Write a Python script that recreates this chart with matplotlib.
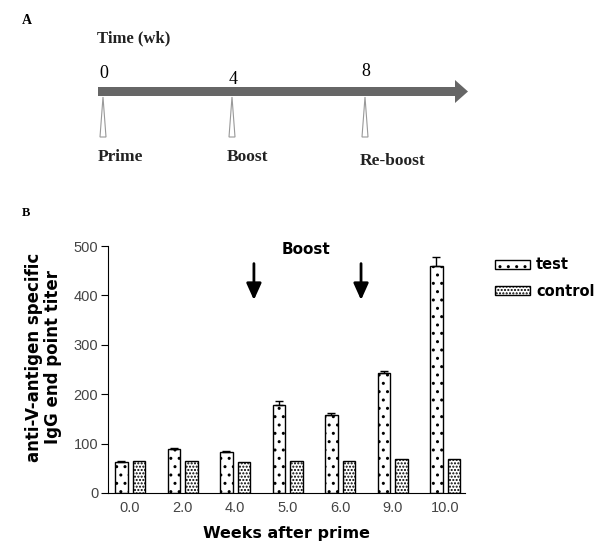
import matplotlib
matplotlib.use('Agg')
import matplotlib.pyplot as plt
from matplotlib.patches import FancyArrow, Polygon
import numpy as np

# data
weeks = ['0.0', '2.0', '4.0', '5.0', '6.0', '9.0', '10.0']
test = [63, 90, 82, 178, 157, 243, 460]
test_err = [2, 1, 3, 8, 4, 4, 17]
control = [65, 65, 63, 65, 65, 68, 68]

timeline_wk = ['0', '4', '8']
timeline_lbl = ['Prime', 'Boost', 'Re-boost']

W, H = 601, 556
fig = plt.figure(figsize=(W / 100, H / 100), dpi=100)

# ---- panel A, drawn in pixel coords on an overlay axes
ov = fig.add_axes([0, 0, 1, 1])
ov.set_xlim(0, W)
ov.set_ylim(H, 0)
ov.axis('off')

serif = 'Liberation Serif'
ov.text(22, 21, 'A', fontfamily=serif, fontweight='bold', fontsize=10, va='center')
ov.text(22, 213, 'B', fontfamily=serif, fontweight='bold', fontsize=9, va='center')
ov.text(97, 38, 'Time (wk)', fontfamily=serif, fontweight='bold', fontsize=12,
        va='center', color='#222')

ov.add_patch(FancyArrow(98, 91.5, 357, 0, width=9, head_width=23, head_length=13,
                        length_includes_head=False, color='#666666', lw=0))
tx = [103, 232, 365]
ty_num = [74, 79, 72]
ty_lbl = [157, 157, 161]
for x, n, yn, lb, yl in zip(tx, timeline_wk, ty_num, timeline_lbl, ty_lbl):
    ov.text(x + 1, yn, n, fontfamily=serif, fontsize=13, ha='center', va='center')
    ov.add_patch(Polygon([(x - 3, 137), (x + 3, 137), (x, 97)], closed=True,
                         fill=False, edgecolor='#999999', lw=0.8))
    ov.text(x - 5, yl, lb, fontfamily=serif, fontweight='bold', fontsize=12.5,
            ha='left', va='center', color='#222')

# ---- panel B bar chart
x0, x1, ytop, ybot = 108, 465, 246, 493
ax = fig.add_axes([x0 / W, 1 - ybot / H, (x1 - x0) / W, (ybot - ytop) / H])

plt.rcParams['hatch.linewidth'] = 1.0
x = np.arange(len(weeks))
bw = 0.24
b1 = ax.bar(x - 0.165, test, bw, color='white', edgecolor='black', lw=1,
            hatch='..', label='test')
ax.errorbar(x - 0.165, test, yerr=[np.zeros(len(test)), test_err], fmt='none',
            ecolor='black', elinewidth=1, capsize=3, capthick=1)
b2 = ax.bar(x + 0.17, control, bw, color='white', edgecolor='black', lw=1,
            hatch='.....', label='control')

ax.set_xlim(-0.419, 6.38)
ax.set_ylim(0, 500)
ax.set_yticks([0, 100, 200, 300, 400, 500])
ax.set_xticks(x)
ax.set_xticklabels(weeks)
ax.spines['top'].set_visible(False)
ax.spines['right'].set_visible(False)
ax.tick_params(axis='y', direction='out', length=5, labelsize=10.5,
               labelcolor='#444444', pad=2)
ax.tick_params(axis='x', length=0, labelsize=10.5, labelcolor='#444444', pad=6)
for t in ax.get_xticklabels() + ax.get_yticklabels():
    t.set_fontfamily('Liberation Sans')

ax.set_ylabel('anti-V-antigen specific\nIgG end point titer', fontsize=12,
              fontweight='bold', fontfamily='DejaVu Sans', linespacing=1.05)
ax.yaxis.set_label_coords(-0.13, 0.55)
ax.set_xlabel('Weeks after prime', fontsize=11.5, fontweight='bold',
              fontfamily='DejaVu Sans', labelpad=8)

# boost arrows
for xa in [2.36, 4.4]:
    ax.annotate('', xy=(xa, 385), xytext=(xa, 470),
                arrowprops=dict(arrowstyle='-|>,head_width=0.45,head_length=1.0',
                                color='black', lw=2))
ax.text(3.35, 492, 'Boost', fontsize=11, fontweight='bold', ha='center',
        va='center', fontfamily='DejaVu Sans')

ax.legend(handles=[b1, b2], loc='upper left', bbox_to_anchor=(488 / W, 1 - 250 / H),
          bbox_transform=fig.transFigure, frameon=False,
          prop={'weight': 'bold', 'size': 10.5}, handlelength=2.4, handleheight=0.6,
          handletextpad=0.4, labelspacing=0.8, borderpad=0)

fig.savefig('out.png', dpi=100)
